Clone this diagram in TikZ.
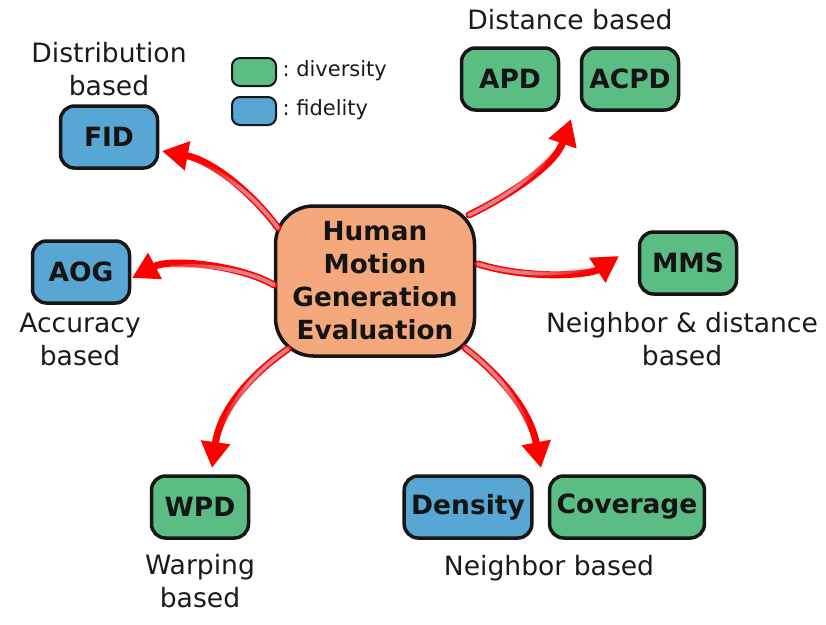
\documentclass[tikz,border=0pt]{standalone}
\usepackage{fontspec}
\setmainfont{DejaVu Sans}
\usetikzlibrary{arrows.meta,calc,fadings}
\frenchspacing

\definecolor{divgreen}{RGB}{91,189,132}
\definecolor{fidblue}{RGB}{88,166,211}
\definecolor{coreorange}{RGB}{244,168,124}
\definecolor{edgegray}{RGB}{22,22,22}
\definecolor{labelgray}{RGB}{26,26,26}
\definecolor{shaftpink}{RGB}{222,128,132}

% the pale core of an arrow shaft is opaque at the tail and dies out towards the head
\pgfdeclarehorizontalshading{tailfadeshade}{100bp}{color(0bp)=(white); color(42bp)=(white); color(66bp)=(black); color(100bp)=(black)}
\pgfdeclarefading{tailfade}{\pgfuseshading{tailfadeshade}}

% #1 start, #2 first control, #3 second control, #4 tip, #5 direction of the fade
\newcommand\motionarrow[5]{%
  \draw[shaft] #1 .. controls #2 and #3 .. #4;
  \path[draw=shaftpink, line width=3.8pt, line cap=round, path fading=tailfade, fading angle=#5]
    #1 .. controls #2 and #3 .. #4;
}

\begin{document}
\begin{tikzpicture}[x=1pt,y=-1pt,
  metric/.style={draw=edgegray, line width=3.5pt, rounded corners=14pt,
    minimum width=97pt, minimum height=62pt, inner xsep=7pt,
    font=\fontsize{26.5}{30}\selectfont\bfseries, text=black!92},
  div/.style={metric, fill=divgreen},
  fid/.style={metric, fill=fidblue},
  core/.style={draw=edgegray, line width=3.5pt, rounded corners=38pt, fill=coreorange,
    minimum width=199pt, minimum height=150pt, align=center,
    font=\fontsize{26.3}{33}\selectfont\bfseries, text=black!92},
  cat/.style={align=center, font=\fontsize{26.6}{33}\selectfont, text=labelgray},
  legbox/.style={draw=edgegray, line width=2pt, rounded corners=8pt,
    minimum width=44pt, minimum height=28pt},
  legtext/.style={anchor=west, font=\fontsize{21}{25}\selectfont, text=labelgray},
  shaft/.style={draw=red, line width=7pt, line cap=round,
    -{Triangle[length=26pt,width=28pt]}},
]
\useasboundingbox (0,0) rectangle (826,624);

% central topic
\node[core] (ctr) at (375,281) {Human\\Motion\\Generation\\Evaluation};

% metric boxes
\node[fid] (fidm) at (109,137) {FID};
\node[fid] (aog) at (81,272) {AOG};
\node[div] (apd) at (510,79) {APD};
\node[div] (acpd) at (630,79) {ACPD};
\node[div] (mms) at (688,263) {MMS};
\node[div] (wpd) at (200,507) {WPD};
\node[fid] (dens) at (468,507) {Density};
\node[div] (cov) at (627,507) {Coverage};

% category captions
\node[cat] (capdistr) at (109,69) {Distribution\\based};
\node[cat] (capdist) at (570,20) {Distance based};
\node[cat] (capacc) at (80,339) {Accuracy\\based};
\node[cat] (capnd) at (682,339) {Neighbor \& distance\\based};
\node[cat] (capwarp) at (200,581) {Warping\\based};
\node[cat] (capneigh) at (549,568) {Neighbor based};

% legend
\node[legbox, fill=divgreen] (legdiv) at (254,72) {};
\node[legtext] (legdivtxt) at (279,71) {: diversity};
\node[legbox, fill=fidblue] (legfid) at (254,111) {};
\node[legtext] (legfidtxt) at (279,110) {: fidelity};

% arrow tips, just short of each group
\coordinate (fidtip) at (162,151);
\coordinate (aogtip) at (132,278);
\coordinate (apdtip) at (571,119);
\coordinate (mmstip) at (619,256);
\coordinate (wpdtip) at (212,468);
\coordinate (denstip) at (541,468);

% arrows leaving the central topic
\motionarrow{($(ctr.center)+(-97,-53)$)}{(250,190)}{(210,160)}{(fidtip)}{146}
\motionarrow{($(ctr.center)+(-101,4)$)}{(240,265)}{(170,258)}{(aogtip)}{177}
\motionarrow{($(ctr.center)+(94,-66)$)}{(510,195)}{(555,165)}{(apdtip)}{43}
\motionarrow{($(ctr.center)+(103,-17)$)}{(530,280)}{(590,275)}{(mmstip)}{3}
\motionarrow{($(ctr.center)+(-87,68)$)}{(250,375)}{(220,410)}{(wpdtip)}{237}
\motionarrow{($(ctr.center)+(90,67)$)}{(500,375)}{(530,410)}{(denstip)}{302}
\end{tikzpicture}
\end{document}
